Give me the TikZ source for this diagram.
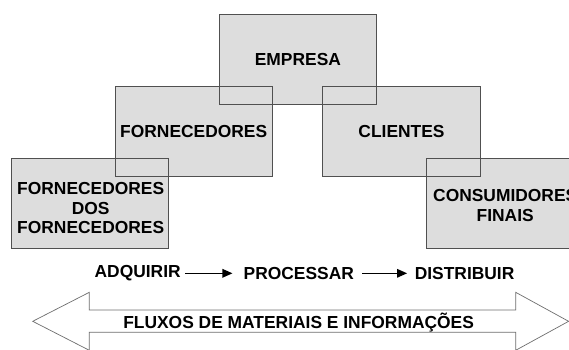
\documentclass[tikz,border=0pt]{standalone}
\usepackage{fontspec}
\setmainfont{Liberation Sans}
\usetikzlibrary{arrows.meta}
\definecolor{boxfill}{RGB}{221,221,221}
\definecolor{boxline}{RGB}{80,80,80}
\definecolor{arrline}{RGB}{110,110,110}
\tikzset{
  lbl/.style={font=\fontsize{17.4}{19.5}\selectfont\bfseries, inner sep=0pt, align=center, text=black},
  boxnode/.style={lbl, fill=boxfill, minimum width=156.8pt, minimum height=89.5pt},
  boxedge/.style={draw=boxline, line width=1pt},
  flow/.style={line width=1.4pt, -{Triangle[length=10pt,width=8.5pt]}},
  bigarrow/.style={draw=arrline, line width=0.7pt, fill=white}
}
\begin{document}
\begin{tikzpicture}[x=1pt,y=-1pt]
\useasboundingbox (0,0) rectangle (569,349);
\begin{scope}
\clip (0,0) rectangle (569,349);
% filled boxes
\node[boxnode] (emp) at (297.9,59.9) {EMPRESA};
\node[boxnode] (forn) at (193.7,131.5) {FORNECEDORES};
\node[boxnode] (cli) at (401.5,131.5) {CLIENTES};
\node[boxnode] (fdf) at (90,203.3) {};
\node[lbl] (fdftxt) at (90.7,208.5) {FORNECEDORES\\DOS\\FORNECEDORES};
\node[boxnode] (cons) at (505.2,203.3) {};
\node[lbl] (constxt) at (505.2,205.5) {CONSUMIDORES\\FINAIS};
% borders on top
\foreach \n in {emp,forn,cli,fdf,cons}
  \draw[boxedge] (\n.south west) rectangle (\n.north east);
% big double arrow
\draw[bigarrow] (32.7,321.3) -- (89.3,292.3) -- (89.3,310) -- (515.7,310) -- (515.7,292.3)
  -- (568.6,321.3) -- (515.7,350.3) -- (515.7,332.3) -- (89.3,332.3) -- (89.3,350.3) -- cycle;
\end{scope}
% process row
\node[lbl] (adq) at (137.7,273.3) {ADQUIRIR};
\node[lbl] (proc) at (298.8,273.3) {PROCESSAR};
\node[lbl] (dist) at (464.6,273.3) {DISTRIBUIR};
\draw[flow, shorten <=4.5pt, shorten >=11pt] (adq.east) -- (proc.west);
\draw[flow, shorten <=8pt, shorten >=7.5pt] (proc.east) -- (dist.west);
\node[lbl] (flux) at (298.6,322.7) {FLUXOS DE MATERIAIS E INFORMAÇÕES};
\end{tikzpicture}
\end{document}
